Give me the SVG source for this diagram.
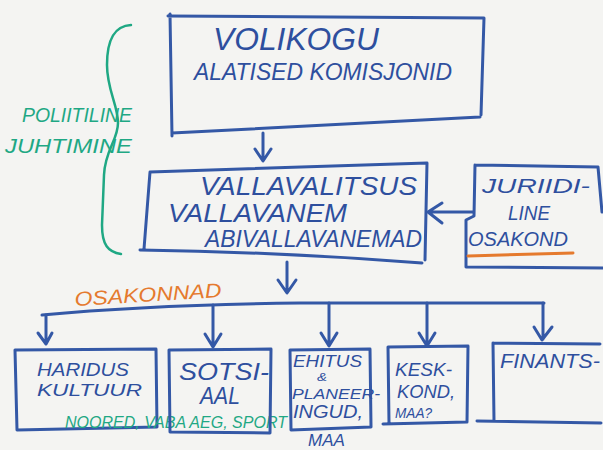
<svg xmlns="http://www.w3.org/2000/svg" width="603" height="450" viewBox="0 0 603 450">
<style>
.bg{fill:#f4f4f2}
.box{fill:none;stroke:#3458a6;stroke-width:3;stroke-linejoin:round;stroke-linecap:round}
.con{fill:none;stroke:#3458a6;stroke-width:3;stroke-linecap:round;stroke-linejoin:round}
.t{font-family:"Liberation Sans",Arial,sans-serif;fill:#2e4f9e;font-style:italic}
.g{font-family:"Liberation Sans",Arial,sans-serif;fill:#1fa884;font-style:italic}
.o{font-family:"Liberation Sans",Arial,sans-serif;fill:#e57a2e;font-style:italic}
.gs{fill:none;stroke:#1fa884;stroke-width:2.5;stroke-linecap:round}
.os{fill:none;stroke:#e57a2e;stroke-width:3;stroke-linecap:round}
</style>
<rect class="bg" x="0" y="0" width="603" height="450"/>

<g id="politiline-juhtimine">
<path class="gs" d="M131,25 C115,26 107,38 107,65 C107,90 118,105 118,123 C118,140 105,150 104,175 L102,225 C102,245 108,252 121,254"/>
<text class="g" x="22" y="122" font-size="21" textLength="110" lengthAdjust="spacingAndGlyphs">POLIITILINE</text>
<text class="g" x="5" y="153" font-size="21" textLength="127" lengthAdjust="spacingAndGlyphs">JUHTIMINE</text>
</g>

<g id="volikogu">
<path class="box" d="M168,16 L484,18 L481,115 M480,117 L172,133 M170,14 L172,136"/>
<text class="t" x="213" y="50" font-size="31" textLength="166" lengthAdjust="spacingAndGlyphs">VOLIKOGU</text>
<text class="t" x="194" y="80" font-size="24" textLength="258" lengthAdjust="spacingAndGlyphs">ALATISED KOMISJONID</text>
</g>

<g id="vallavalitsus">
<path class="box" d="M150,172 L427,163 L425,260 M422,263 Q280,252 140,250 M150,172 L144,249"/>
<text class="t" x="200" y="195" font-size="26" textLength="217" lengthAdjust="spacingAndGlyphs">VALLAVALITSUS</text>
<text class="t" x="168" y="222" font-size="26" textLength="179" lengthAdjust="spacingAndGlyphs">VALLAVANEM</text>
<text class="t" x="205" y="247" font-size="24" textLength="217" lengthAdjust="spacingAndGlyphs">ABIVALLAVANEMAD</text>
</g>

<g id="juriidiline-osakond">
<path class="box" d="M475,165 L598,167 L602,212 M475,165 L474,216 L466,220 L466,267 L603,268"/>
<text class="t" x="482" y="193" font-size="21" textLength="108" lengthAdjust="spacingAndGlyphs">JURIIDI-</text>
<text class="t" x="508" y="220" font-size="21" textLength="42" lengthAdjust="spacingAndGlyphs">LINE</text>
<text class="t" x="468" y="246" font-size="21" textLength="100" lengthAdjust="spacingAndGlyphs">OSAKOND</text>
<path class="os" d="M468,256 L573,253"/>
</g>

<g id="osakonnad-label">
<text class="o" x="75" y="306" font-size="20" textLength="147" lengthAdjust="spacingAndGlyphs" transform="rotate(-3.5 75 306)">OSAKONNAD</text>
</g>

<g id="haridus-kultuur">
<path class="box" d="M15,350 L156,349 L157,427 L17,430 Z"/>
<text class="t" x="37" y="376" font-size="19" textLength="92" lengthAdjust="spacingAndGlyphs">HARIDUS</text>
<text class="t" x="37" y="396" font-size="17" textLength="105" lengthAdjust="spacingAndGlyphs">KULTUUR</text>
<text class="g" x="65" y="428" font-size="17" textLength="222" lengthAdjust="spacingAndGlyphs">NOORED, VABA AEG, SPORT</text>
</g>

<g id="sotsiaal">
<path class="box" d="M169,350 L271,349 L270,433 L170,432 Z"/>
<text class="t" x="179" y="380" font-size="23" textLength="90" lengthAdjust="spacingAndGlyphs">SOTSI-</text>
<text class="t" x="200" y="404" font-size="23" textLength="40" lengthAdjust="spacingAndGlyphs">AAL</text>
</g>

<g id="ehitus-planeeringud">
<path class="box" d="M290,350 L370,349 L371,427 L291,430 Z"/>
<text class="t" x="293" y="367" font-size="17" textLength="69" lengthAdjust="spacingAndGlyphs">EHITUS</text>
<text class="t" x="317" y="381" font-size="11" textLength="10" lengthAdjust="spacingAndGlyphs">&amp;</text>
<text class="t" x="292" y="399" font-size="15" textLength="88" lengthAdjust="spacingAndGlyphs">PLANEER-</text>
<text class="t" x="293" y="418" font-size="18" textLength="70" lengthAdjust="spacingAndGlyphs">INGUD,</text>
<text class="t" x="308" y="446" font-size="17" textLength="37" lengthAdjust="spacingAndGlyphs">MAA</text>
</g>

<g id="keskkond">
<path class="box" d="M388,347 L468,346 L467,422 M383,424 L467,422 M388,347 L389,423"/>
<text class="t" x="395" y="376" font-size="19" textLength="57" lengthAdjust="spacingAndGlyphs">KESK-</text>
<text class="t" x="397" y="398" font-size="19" textLength="58" lengthAdjust="spacingAndGlyphs">KOND,</text>
<text class="t" x="395" y="418" font-size="14" textLength="37" lengthAdjust="spacingAndGlyphs">MAA?</text>
</g>

<g id="finants">
<path class="box" d="M493,343 L600,344 M493,343 L494,421 M477,421 L601,423"/>
<text class="t" x="500" y="368" font-size="20" textLength="100" lengthAdjust="spacingAndGlyphs">FINANTS-</text>
</g>

<g id="connectors">
<path class="con" d="M263,133 L263,160 M255,149 L263,161 L271,149"/>
<path class="con" d="M473,212 L428,212 M442,203 L428,212 L442,223"/>
<path class="con" d="M287,262 L287,292 M278,280 L287,293 L296,280"/>
<path class="con" d="M42,315 Q150,305 300,303 L544,303"/>
<path class="con" d="M46,315 L46,343 M38,333 L46,344 L52,333"/>
<path class="con" d="M213,305 L213,346 M205,334 L213,347 L221,334"/>
<path class="con" d="M329,303 L329,345 M321,333 L329,346 L337,333"/>
<path class="con" d="M427,303 L427,345 M419,333 L427,346 L435,333"/>
<path class="con" d="M543,303 L543,339 M534,327 L542,340 L552,327"/>
</g>
</svg>
